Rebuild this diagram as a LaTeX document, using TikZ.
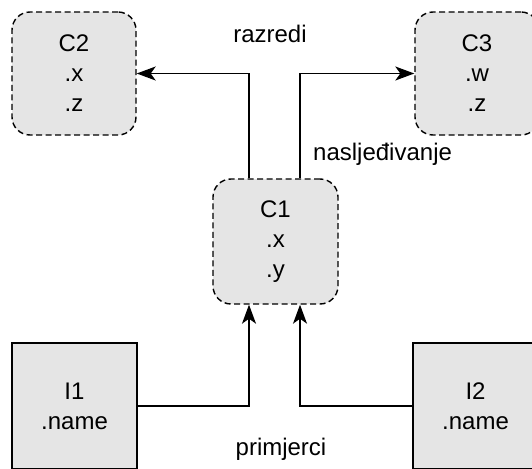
\documentclass[tikz,border=0pt]{standalone}
\usepackage{fontspec}
\setmainfont{Liberation Sans}
\usetikzlibrary{arrows.meta}
\begin{document}
\begin{tikzpicture}[x=1pt,y=-1pt,
  every node/.style={font=\fontsize{24}{30}\selectfont, inner sep=0pt},
  classbox/.style={draw=black, fill=black!10, line width=1.4pt,
    dash pattern=on 6pt off 3.5pt, rounded corners=18pt,
    minimum width=124pt, minimum height=123pt, align=center},
  instbox/.style={draw=black, fill=black!10, line width=1.4pt,
    minimum width=125pt, minimum height=126pt, align=center},
  link/.style={draw=black, line width=1.4pt,
    -{Stealth[length=19pt,width=14pt,inset=5pt]}},
  lbl/.style={}]
  \useasboundingbox (0,0) rectangle (532,468);
  \clip (0,0) rectangle (532,468);

  % classes
  \node[classbox] (C2) at (74,73.5) {C2\\.x\\.z};
  \node[classbox] (C3) at (477,73.5) {C3\\.w\\.z};
  \node[classbox, minimum width=125pt, minimum height=125pt] (C1) at (275.5,241.5) {C1\\.x\\.y};

  % instances
  \node[instbox] (I1) at (74.5,406) {I1\\.name};
  \node[instbox] (I2) at (475.5,406) {I2\\.name};

  % inheritance
  \draw[link] ([xshift=-26.5pt]C1.north) |- (C2.east);
  \draw[link] ([xshift=24.5pt]C1.north) |- (C3.west);

  % instantiation
  \draw[link] (I1.east) -| ([xshift=-26.5pt]C1.south);
  \draw[link] (I2.west) -| ([xshift=24.5pt]C1.south);

  % labels
  \node[lbl, anchor=base] (tRaz) at (270,43) {razredi};
  \node[lbl, anchor=base west] (tNas) at (313,160) {nasljeđivanje};
  \node[lbl, anchor=base] (tPri) at (281,455) {primjerci};
\end{tikzpicture}
\end{document}
